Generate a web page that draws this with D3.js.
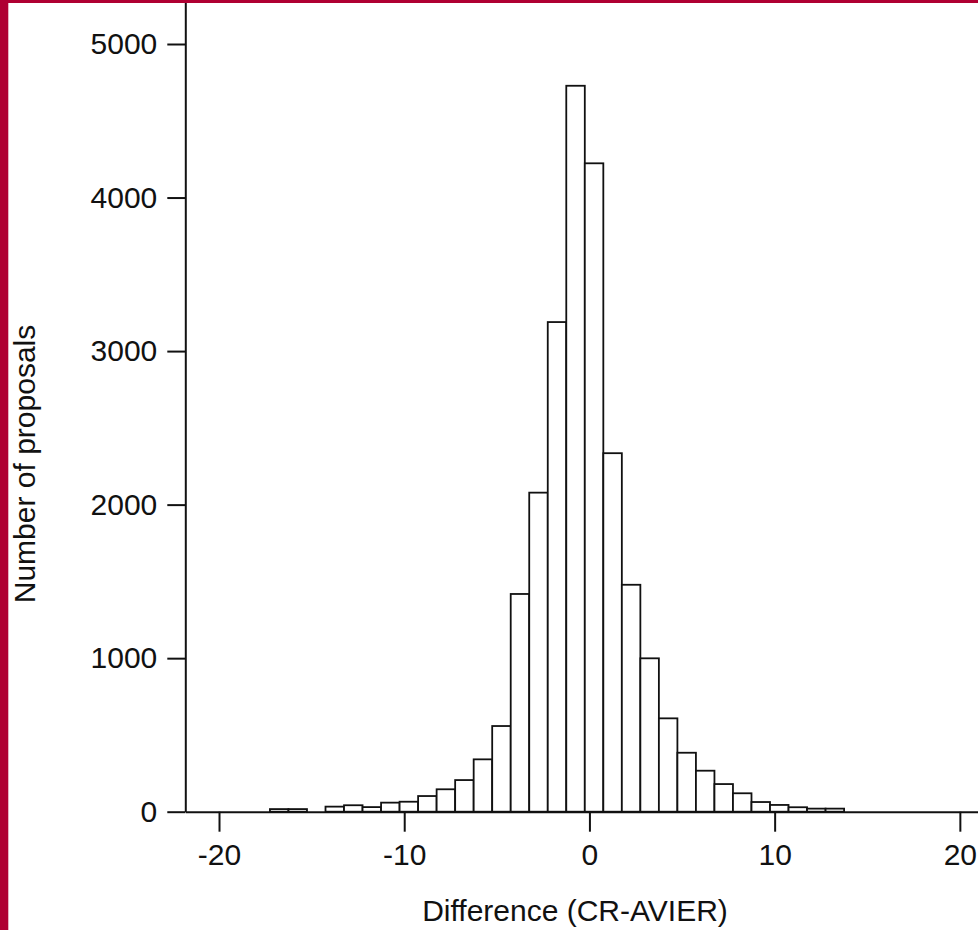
<!DOCTYPE html>
<html>
<head>
<meta charset="utf-8">
<script src="https://cdn.jsdelivr.net/npm/d3@7"></script>
<style>
  html, body { margin: 0; padding: 0; background: #fff; }
  svg { display: block; }
  text { font-family: "Liberation Sans", Arial, Helvetica, sans-serif; fill: #111; }
</style>
</head>
<body>
<svg id="chart" width="978" height="930"></svg>
<script>
// ---- data ----
const binLower = [-17.25, -16.25, -15.25, -14.25, -13.25, -12.25, -11.25, -10.25, -9.25, -8.25,
                  -7.25, -6.25, -5.25, -4.25, -3.25, -2.25, -1.25, -0.25, 0.75, 1.75,
                  2.75, 3.75, 4.75, 5.75, 6.75, 7.75, 8.75, 9.75, 10.75, 11.75, 12.75];
const binWidth = 1;
const counts = [17, 17, 0, 33, 42, 30, 59, 65, 102, 146,
                206, 341, 558, 1418, 2078, 3189, 4728, 4223, 2335, 1478,
                999, 608, 384, 267, 180, 120, 63, 44, 29, 20, 20];
const xTicks = [-20, -10, 0, 10, 20];
const yTicks = [0, 1000, 2000, 3000, 4000, 5000];
const xTitle = "Difference (CR-AVIER)";
const yTitle = "Number of proposals";

// ---- layout ----
const svg = d3.select("#chart");
const W = 978, H = 930;
const x = d3.scaleLinear().domain([-21.82, 20.98]).range([185.3, 978]);
const y = d3.scaleLinear().domain([0, 5286.6]).range([811.7, 0]);
const FS = 30;

svg.append("rect").attr("width", W).attr("height", H).attr("fill", "#fff");

// bars
svg.append("g")
  .selectAll("rect")
  .data(counts.map((c, i) => ({ x0: binLower[i], x1: binLower[i] + binWidth, c })))
  .join("rect")
  .attr("x", d => x(d.x0))
  .attr("width", d => x(d.x1) - x(d.x0))
  .attr("y", d => y(d.c))
  .attr("height", d => y(0) - y(d.c))
  .attr("fill", "#fff")
  .attr("stroke", "#111")
  .attr("stroke-width", 1.8);

// y axis
const gy = svg.append("g")
  .attr("transform", `translate(${x.range()[0]},0)`)
  .call(d3.axisLeft(y).tickValues(yTicks).tickFormat(d => String(d))
        .tickSize(18).tickSizeOuter(0).tickPadding(10));
// x axis
const gx = svg.append("g")
  .attr("transform", `translate(0,${y(0)})`)
  .call(d3.axisBottom(x).tickValues(xTicks).tickFormat(d => String(d))
        .tickSize(20).tickSizeOuter(0).tickPadding(12));

[gx, gy].forEach(g => {
  g.select(".domain").attr("stroke", "#111").attr("stroke-width", 2);
  g.selectAll(".tick line").attr("stroke", "#111").attr("stroke-width", 2);
  g.selectAll(".tick text")
    .attr("font-family", '"Liberation Sans", Arial, sans-serif')
    .attr("font-size", FS).attr("fill", "#111");
});

// axis titles
svg.append("text")
  .attr("x", 575).attr("y", 921)
  .attr("text-anchor", "middle")
  .attr("font-size", FS)
  .text(xTitle);

svg.append("text")
  .attr("transform", "translate(35,464) rotate(-90)")
  .attr("text-anchor", "middle")
  .attr("font-size", FS)
  .text(yTitle);

// crimson frame (left and top)
svg.append("rect").attr("x", 0).attr("y", 0).attr("width", 8.3).attr("height", H).attr("fill", "#af0032");
svg.append("rect").attr("x", 0).attr("y", 0).attr("width", W).attr("height", 3).attr("fill", "#af0032");
</script>
</body>
</html>
